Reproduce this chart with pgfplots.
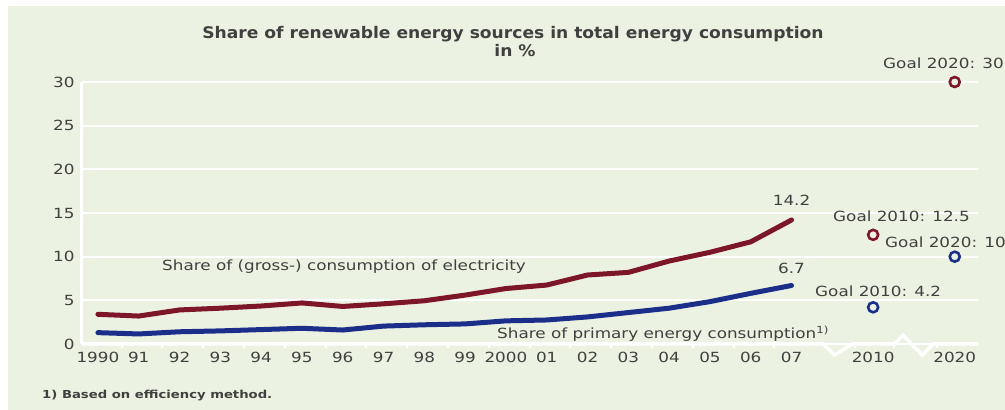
\documentclass[border=0pt]{standalone}
\usepackage{fontspec}
\setmainfont{DejaVu Sans}[FakeStretch=1.2]
\newfontfamily\titlefont{DejaVu Sans}[FakeStretch=1.07]
\usepackage{pgfplots}
\pgfplotsset{compat=1.18}

\definecolor{bg}{RGB}{236,242,226}
\definecolor{elec}{RGB}{125,22,38}
\definecolor{prim}{RGB}{26,46,138}
\definecolor{txt}{RGB}{64,64,64}

\begin{document}
\begin{tikzpicture}[x=1pt,y=1pt]
\useasboundingbox (0,0) rectangle (1005,410);
\fill[white] (0,0) rectangle (1005,410);
\fill[bg] (8,0) rectangle (1005,404);

% title
\node[anchor=base, text=txt, font=\titlefont\bfseries\fontsize{16}{18}\selectfont] at (513,371) {Share of renewable energy sources in total energy consumption};
\node[anchor=base, text=txt, font=\titlefont\bfseries\fontsize{16}{18}\selectfont] at (515,353) {in \%};

\begin{axis}[
  at={(82pt,66pt)}, anchor=south west,
  scale only axis, width=896pt, height=262pt,
  xmin=-0.39, xmax=21.57, ymin=0, ymax=30,
  axis line style={draw=none},
  ytick={0,5,...,30},
  ymajorgrids, grid style={white, line width=2pt},
  xtick={0,...,17,19,21},
  xticklabels={1990,91,92,93,94,95,96,97,98,99,2000,01,02,03,04,05,06,07,2010,2020},
  major tick length=0pt,
  tick pos=left,
  extra x ticks={0.58,1.58,2.58,3.58,4.58,5.58,6.58,7.58,8.58,9.58,10.58,11.58,12.58,13.58,14.58,15.58,16.58,18.55,19.5,20.56},
  extra x tick labels={},
  extra x tick style={major tick length=4pt, tick align=outside, tick style={white, line width=2pt}, grid=none},
  /pgf/number format/assume math mode=true,
  tick label style={font=\fontsize{14}{16}\selectfont, text=txt},
  xticklabel style={anchor=base, yshift=-18.3pt},
  yticklabel style={xshift=-4pt},
  clip=false,
]
% axis lines with the break before the goal years
\draw[white, line width=3pt] (axis cs:-0.39,0) -- (axis cs:-0.39,30);
\draw[white, line width=3.5pt, line join=miter] (axis cs:-0.39,0) -- (axis cs:17.77,0) -- (axis cs:18.06,-1.26) -- (axis cs:18.48,0) -- (axis cs:19.53,0) -- (axis cs:19.73,1.03) -- (axis cs:20.2,-1.26) -- (axis cs:20.47,0) -- (axis cs:21.57,0);

% share of gross electricity consumption
\addplot[elec, line width=5pt, line join=round, line cap=round] coordinates {
  (0,3.4) (1,3.2) (2,3.9) (3,4.1) (4,4.35) (5,4.7) (6,4.3) (7,4.6) (8,4.95)
  (9,5.6) (10,6.35) (11,6.75) (12,7.9) (13,8.2) (14,9.5) (15,10.5) (16,11.7) (17,14.2)};
% share of primary energy consumption
\addplot[prim, line width=5pt, line join=round, line cap=round] coordinates {
  (0,1.3) (1,1.15) (2,1.4) (3,1.5) (4,1.65) (5,1.8) (6,1.6) (7,2.05) (8,2.2)
  (9,2.3) (10,2.65) (11,2.75) (12,3.1) (13,3.6) (14,4.1) (15,4.85) (16,5.8) (17,6.7)};

% targets
\addplot[only marks, mark=*, mark size=5pt, draw=elec, fill=bg, line width=2.6pt] coordinates {(19,12.5) (21,30)};
\addplot[only marks, mark=*, mark size=5pt, draw=prim, fill=bg, line width=2.6pt] coordinates {(19,4.2) (21,10)};

\node[anchor=base, text=txt, font=\fontsize{14}{16}\selectfont] at (axis cs:17,15.9) {14.2};
\node[anchor=base, text=txt, font=\fontsize{14}{16}\selectfont] at (axis cs:17,8.1) {6.7};
\end{axis}

% annotations
\begin{scope}[every node/.style={anchor=base west, text=txt, inner sep=0pt, font=\fontsize{14}{16}\selectfont}]
\node at (162,139) {Share of (gross-) consumption of electricity};
\node at (497,71) {Share of primary energy consumption\textsuperscript{1)}};
\node at (883,341) {Goal 2020: 30};
\node at (833,188) {Goal 2010: 12.5};
\node at (885,162) {Goal 2020: 10};
\node at (815,113) {Goal 2010: 4.2};
\node[font=\bfseries\fontsize{11}{13}\selectfont] at (42,11) {1) Based on efficiency method.};
\end{scope}
\end{tikzpicture}
\end{document}
